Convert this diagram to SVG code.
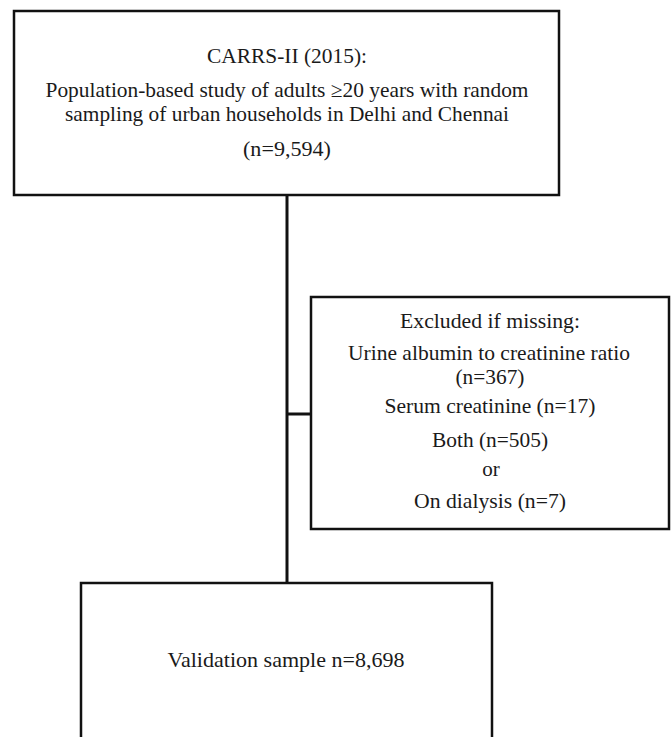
<svg xmlns="http://www.w3.org/2000/svg" width="672" height="737" viewBox="0 0 672 737">
<style>
.box{fill:#fff;stroke:#111;stroke-width:2.5}
.t{font-family:"Liberation Serif","Times New Roman",serif;font-size:21px;fill:#1a1a1a;text-anchor:middle}
.c{fill:none;stroke:#111;stroke-width:3}
</style>
<rect width="672" height="737" fill="#fff"/>
<g id="connectors">
<line class="c" x1="287" y1="195" x2="287" y2="584"/>
<line class="c" x1="287" y1="414" x2="311" y2="414"/>
</g>
<g id="source">
<rect class="box" x="14" y="11" width="545" height="184"/>
<text class="t" x="287" y="63" textLength="160" lengthAdjust="spacingAndGlyphs">CARRS-II (2015):</text>
<text class="t" x="287" y="97" textLength="483" lengthAdjust="spacingAndGlyphs">Population-based study of adults ≥20 years  with random</text>
<text class="t" x="287" y="121" textLength="444" lengthAdjust="spacingAndGlyphs">sampling of urban households in Delhi and Chennai</text>
<text class="t" x="287" y="156" textLength="88" lengthAdjust="spacingAndGlyphs">(n=9,594)</text>
</g>
<g id="excluded">
<rect class="box" x="311" y="297" width="358" height="232"/>
<text class="t" x="490" y="328" textLength="180" lengthAdjust="spacingAndGlyphs">Excluded if missing:</text>
<text class="t" x="489" y="360" textLength="282" lengthAdjust="spacingAndGlyphs">Urine albumin to creatinine ratio</text>
<text class="t" x="490" y="384" textLength="69" lengthAdjust="spacingAndGlyphs">(n=367)</text>
<text class="t" x="490" y="413" textLength="211" lengthAdjust="spacingAndGlyphs">Serum creatinine (n=17)</text>
<text class="t" x="490" y="447" textLength="116" lengthAdjust="spacingAndGlyphs">Both (n=505)</text>
<text class="t" x="491" y="476">or</text>
<text class="t" x="490" y="508" textLength="152" lengthAdjust="spacingAndGlyphs">On dialysis (n=7)</text>
</g>
<g id="validation">
<rect class="box" x="81" y="583" width="411" height="190"/>
<text class="t" x="286" y="667" textLength="237" lengthAdjust="spacingAndGlyphs">Validation sample n=8,698</text>
</g>
</svg>
